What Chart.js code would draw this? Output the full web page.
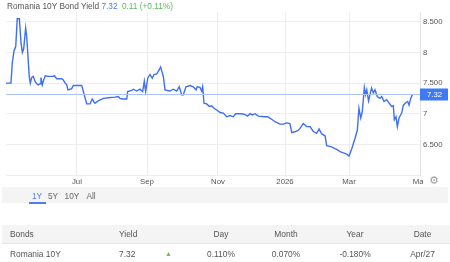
<!DOCTYPE html>
<html>
<head>
<meta charset="utf-8">
<script src="https://cdn.jsdelivr.net/npm/chart.js@4/dist/chart.umd.min.js"></script>
<style>
  body { margin: 0; background: #fff; font-family: "Liberation Sans", Arial, sans-serif; }
  #wrap { position: relative; width: 450px; height: 262px; overflow: hidden; }
  #chart { position: absolute; left: 0; top: 0; }
  .title { position: absolute; left: 7px; top: 1px; font-size: 8.3px; color: #555; white-space: nowrap; }
  .title .last { color: #4f7df0; }
  .title .chg { color: #5cb85c; margin-left: 2px; }
  .gear { position: absolute; left: 429px; top: 174px; font-size: 11px; color: #999; font-family: "DejaVu Sans"; }
  .range { position: absolute; left: 2px; top: 187px; width: 446px; height: 16px; background: #f4f4f4; }
  .range span { position: absolute; top: 4px; font-size: 8.3px; color: #666; transform: translateX(-50%); }
  .range span.on { color: #4f7df0; }
  .range .ul { position: absolute; left: 27px; top: 15px; width: 17px; height: 1.5px; background: #4f7df0; }
  table { position: absolute; left: 2px; top: 225px; width: 448px; border-collapse: collapse; font-size: 8.4px; color: #555; }
  th { background: #f4f4f4; font-weight: normal; height: 18px; padding: 0; }
  td { height: 19px; padding: 0; border-top: 1px solid #e8e8e8; }
  .tri { color: #6cc04a; font-size: 7px; }
</style>
</head>
<body>
<div id="wrap">
  <canvas id="chart" width="450" height="186"></canvas>
  <div class="title">Romania 10Y Bond Yield <span class="last">7.32</span> <span class="chg">0.11 (+0.11%)</span></div>
  <div class="gear">⚙</div>
  <div class="range">
    <span class="on" style="left:35px">1Y</span>
    <span style="left:51px">5Y</span>
    <span style="left:70px">10Y</span>
    <span style="left:89px">All</span>
    <div class="ul"></div>
  </div>
  <table>
    <tr>
      <th style="text-align:left;padding-left:8px;width:109px">Bonds</th>
      <th style="text-align:left;width:46px">Yield</th>
      <th style="width:20px"></th>
      <th style="width:72px">Day</th>
      <th style="width:58px">Month</th>
      <th style="width:80px">Year</th>
      <th>Date</th>
    </tr>
    <tr>
      <td style="padding-left:8px">Romania 10Y</td>
      <td>7.32</td>
      <td class="tri">▲</td>
      <td style="text-align:center">0.110%</td>
      <td style="text-align:center">0.070%</td>
      <td style="text-align:center">-0.180%</td>
      <td style="text-align:center">Apr/27</td>
    </tr>
  </table>
</div>
<script>
// trading-session index (x) and yield (%)
const sessions = [0, 3.3, 4.2, 5.3, 6.5, 7.5, 8.9, 10, 10.9, 11.8, 13.1, 13.8, 15.5, 16.2, 17.1, 18.2, 19.3, 20.5, 21.5, 22.7,
  23.3, 24.2, 25.1, 26.2, 28.2, 31.5, 32.2, 33.8, 37.1, 38.2, 39.5, 40.5, 41.3, 42.7, 43.8, 44.9, 50.5, 53.8, 56, 57.5,
  59.3, 61.5, 64.9, 68.2, 72.7, 74.9, 76, 77.5, 80.5, 81.1, 83.8, 84.9, 87.1, 89.3, 91.1, 92.2, 93.1, 94.5, 96, 97.5,
  98.7, 100.5, 101.5, 103.1, 104.9, 106, 109.3, 111.5, 113.8, 115.5, 117.1, 118.2, 120, 122.7, 124.9, 126.7, 127.5, 129.3, 130.5, 131.1,
  132, 133.8, 135.5, 137.1, 138.7, 140.5, 142.7, 144.9, 147.1, 149.3, 151.5, 153.1, 157.1, 159.8, 161.1, 162.7, 164.2, 166, 168.2, 172.2,
  174.5, 177.1, 179.3, 182.7, 184.9, 187.1, 189.3, 190.5, 193.1, 194.9, 196, 198.2, 200.5, 202.7, 204.9, 207.1, 208.7, 210.5, 212.7, 213.8,
  217.1, 219.3, 221.1, 222.7, 224.9, 227.1, 228.7, 230.5, 232.7, 234.2, 235.3, 236.5, 237.5, 238.9, 239.7, 240.5, 241.7, 243.7, 244.9, 246,
  247.5, 249.3, 250.5, 252, 253.8, 255.5, 257.1, 258.2, 258.9, 260, 260.9, 262, 263.8, 264.9, 266.5, 267.8, 268.7, 269.8, 271.1];
const yields = [7.50, 7.50, 7.83, 8.02, 8.10, 8.55, 8.55, 8.16, 8.00, 8.06, 8.40, 8.26, 7.61, 7.50, 7.59, 7.61, 7.53, 7.49, 7.47, 7.49,
  7.59, 7.47, 7.55, 7.62, 7.61, 7.61, 7.62, 7.57, 7.57, 7.55, 7.50, 7.47, 7.39, 7.40, 7.41, 7.46, 7.46, 7.16, 7.16, 7.24,
  7.17, 7.21, 7.25, 7.26, 7.27, 7.28, 7.25, 7.24, 7.24, 7.36, 7.38, 7.40, 7.37, 7.40, 7.36, 7.53, 7.36, 7.58, 7.64, 7.58,
  7.64, 7.65, 7.69, 7.76, 7.61, 7.39, 7.37, 7.40, 7.37, 7.44, 7.31, 7.31, 7.44, 7.46, 7.44, 7.39, 7.44, 7.43, 7.37, 7.44,
  7.17, 7.16, 7.12, 7.13, 7.09, 7.06, 7.02, 7.01, 6.95, 6.97, 6.95, 7.00, 7.00, 6.98, 6.96, 7.00, 6.98, 7.00, 6.96, 6.95,
  6.95, 6.91, 6.87, 6.83, 6.83, 6.85, 6.84, 6.69, 6.71, 6.73, 6.76, 6.84, 6.79, 6.79, 6.71, 6.68, 6.75, 6.67, 6.64, 6.48,
  6.46, 6.43, 6.41, 6.38, 6.36, 6.34, 6.31, 6.43, 6.60, 6.73, 7.09, 6.93, 7.03, 7.43, 7.31, 7.39, 7.21, 7.42, 7.34, 7.39,
  7.28, 7.25, 7.28, 7.20, 7.23, 7.17, 7.12, 7.13, 6.90, 6.95, 6.79, 6.93, 7.01, 7.14, 7.18, 7.20, 7.14, 7.25, 7.32];

const monthTicks = [47.3, 94, 141.3, 186, 228.7, 276];
const monthLabels = ["Jul", "Sep", "Nov", "2026", "Mar", "May"];
const yTicks = [6, 6.5, 7, 7.5, 8, 8.5];
const yLabels = ["", "6.500", "7", "7.500", "8", "8.500"];
const lastYield = 7.32;

const blue = "#3f70f4";
const tickFont = { family: "Liberation Sans, Arial", size: 7.8 };

// thin line at the last value plus the blue price tag on the axis
const lastValuePlugin = {
  id: "lastValue",
  afterDatasetsDraw(chart) {
    const { ctx, chartArea, scales } = chart;
    const y = Math.round(scales.y.getPixelForValue(lastYield)) + 0.5;
    ctx.save();
    ctx.strokeStyle = "#aac2fb";
    ctx.lineWidth = 1;
    ctx.beginPath();
    ctx.moveTo(chartArea.left, y);
    ctx.lineTo(chartArea.right, y);
    ctx.stroke();
    ctx.fillStyle = "#3d7af5";
    ctx.fillRect(chartArea.right, y - 6, 28, 12);
    ctx.fillStyle = "#fff";
    ctx.font = "7.8px 'Liberation Sans', Arial";
    ctx.textBaseline = "middle";
    ctx.fillText(lastYield.toFixed(2), chartArea.right + 7, y + 0.5);
    ctx.restore();
  },
  // the last month label is cut off by the price panel, as in the original
  afterDraw(chart) {
    const { ctx, chartArea } = chart;
    ctx.save();
    ctx.fillStyle = "#fff";
    ctx.fillRect(chartArea.right + 3, chartArea.bottom + 1, chart.width - chartArea.right, chart.height - chartArea.bottom);
    ctx.restore();
  }
};

new Chart(document.getElementById("chart"), {
  type: "line",
  data: {
    datasets: [{
      data: sessions.map((s, i) => ({ x: s, y: yields[i] })),
      borderColor: blue,
      borderWidth: 1.4,
      pointRadius: 0,
      tension: 0
    }]
  },
  options: {
    responsive: false,
    animation: false,
    events: [],
    layout: { padding: { left: 6, top: 12, right: 0, bottom: 0 } },
    plugins: { legend: { display: false }, tooltip: { enabled: false } },
    scales: {
      x: {
        type: "linear",
        min: 0,
        max: 276,
        afterBuildTicks(scale) { scale.ticks = monthTicks.map(v => ({ value: v })); },
        afterFit(scale) { scale.height = 11; },
        ticks: {
          autoSkip: false,
          maxRotation: 0,
          padding: 2,
          color: "#555",
          font: tickFont,
          callback: (v) => monthLabels[monthTicks.indexOf(v)]
        },
        grid: { color: "#ededed", drawTicks: false },
        border: { display: false }
      },
      y: {
        position: "right",
        min: 6,
        max: 8.66,
        afterBuildTicks(scale) { scale.ticks = yTicks.map(v => ({ value: v })); },
        afterFit(scale) { scale.width = 30; },
        ticks: {
          padding: 3,
          color: "#555",
          font: tickFont,
          callback: (v) => yLabels[yTicks.indexOf(v)]
        },
        grid: { color: "#ededed", drawTicks: false },
        border: { display: true, color: "#e4e4e4" }
      }
    }
  },
  plugins: [lastValuePlugin]
});
</script>
</body>
</html>
